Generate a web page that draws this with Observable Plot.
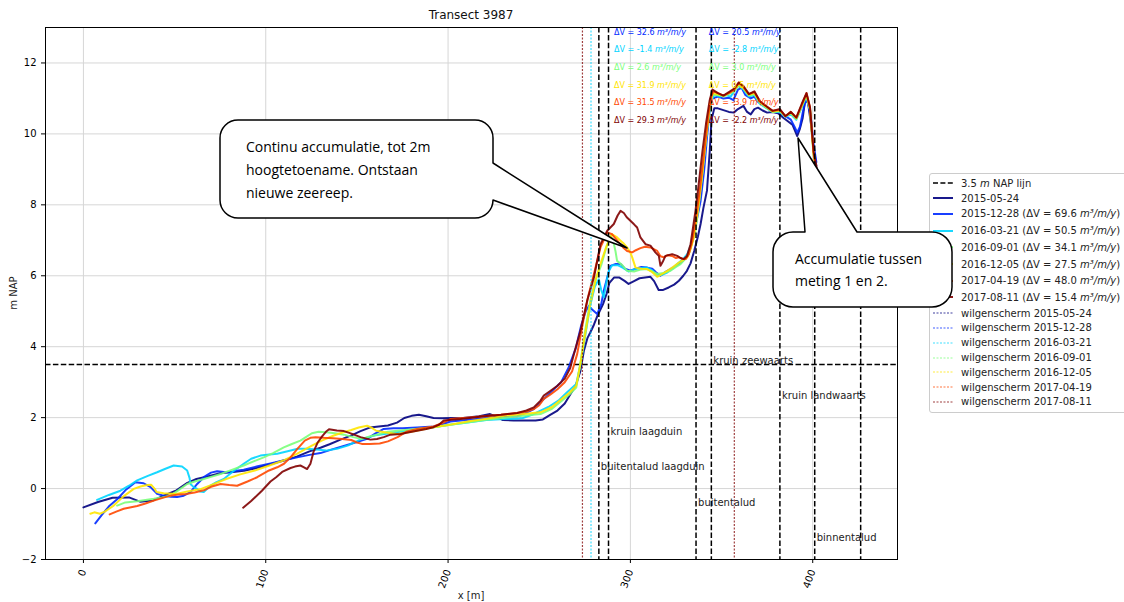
<!DOCTYPE html>
<html><head><meta charset="utf-8">
<script src="https://cdn.jsdelivr.net/npm/d3@7"></script>
<script src="https://cdn.jsdelivr.net/npm/@observablehq/plot@0.6"></script>
<style>
body{margin:0;background:#fff;}
#wrap{position:relative;width:1124px;height:602px;overflow:hidden;font-family:"DejaVu Sans",sans-serif;background:#fff;}
#legend{position:absolute;left:929px;top:173px;width:230px;border:1px solid #cccccc;border-radius:3px;background:rgba(255,255,255,0.85);padding:2px 0 3px 0;font-size:10px;color:#222;}
#legend .row{display:flex;align-items:center;padding-left:2px;white-space:nowrap;}
#legend svg{flex:none;margin-right:7px;}
#overlay{position:absolute;left:0;top:0;pointer-events:none;}
</style></head><body><div id="wrap"></div><script>
// ---------- data ----------
const dates = ["2015-05-24","2015-12-28","2016-03-21","2016-09-01","2016-12-05","2017-04-19","2017-08-11"];
const colors = ["#000080","#002aff","#00d4ff","#7aff7a","#ffe500","#ff4800","#800000"];
const legendDV = [null, "69.6", "50.5", "34.1", "27.5", "48.0", "15.4"];
const dvCol1 = ["32.6", "-1.4", "2.6", "31.9", "31.5", "29.3"];
const dvCol2 = ["20.5", "-2.8", "3.0", "0.5", "-3.9", "-2.2"];
const dvRowY = [12.85, 12.37, 11.87, 11.38, 10.88, 10.39];
const dvColX = [291, 343];
const napLevel = 3.5;
const boundaryX = [282.7, 288.0, 336.0, 344.4, 382.0, 401.1, 426.3];
const boundaryLabel = ["buitentalud laagduin", "kruin laagduin", "buitentalud", "kruin zeewaarts", "kruin landwaarts", "binnentalud", ""];
const boundaryLabelY = [0.5, 1.5, -0.5, 3.5, 2.5, -1.5, null];
const wilgX = [[], [], [278.4], [], [], [], [273.7, 357.0]];
const xTicks = [0, 100, 200, 300, 400];
const yTicks = [-2, 0, 2, 4, 6, 8, 10, 12];

const p20150524 = [[0,-0.53],[8,-0.38],[16,-0.26],[25,-0.25],[31,-0.37],[38,-0.34],[44,-0.2],[51,-0.05],[57,0.16],[62,0.27],[68,0.34],[75,0.43],[82,0.47],[88,0.5],[95,0.58],[102,0.68],[110,0.79],[117,0.9],[124,1.05],[130,1.15],[135,1.25],[141,1.38],[147,1.5],[152,1.62],[157,1.72],[162,1.75],[167,1.78],[172,1.86],[176,1.99],[180,2.05],[184,2.08],[188,2.04],[192,1.99],[197,1.98],[202,1.99],[207,1.98],[212,2.01],[217,2.04],[223,2.1],[227,2.02],[230,1.93],[236,1.92],[242,1.92],[248,1.92],[252,1.95],[256,2.08],[260,2.2],[264,2.4],[267,2.65],[270,2.9],[272.5,3.3],[274.5,3.89],[276.5,4.25],[278,4.4],[280,4.62],[282,4.88],[285,5.2],[287,5.5],[288.5,5.8],[291,5.95],[294,5.95],[297,5.85],[299,5.77],[302,5.85],[305,5.93],[308,5.95],[311,5.97],[313,5.85],[315.5,5.6],[318,5.6],[321,5.67],[324,5.75],[326.6,5.86],[329,6.0],[331,6.14],[333,6.35],[335,6.7],[337,7.1],[338.5,7.46],[340,7.9],[342,8.4],[343.5,9.5],[344.5,10.4],[346,10.72],[348,10.72],[351,10.67],[354,10.62],[356.7,10.6],[359,10.7],[362,10.79],[364,10.62],[366,10.55],[368,10.7],[370,10.74],[372.5,10.66],[375,10.6],[378,10.62],[381,10.58],[384,10.45],[386,10.37],[389,10.25],[391.5,9.94],[393,10.15],[394.5,10.45],[396,11.0],[397.5,10.85],[399,10.3],[400.5,9.6],[402,9.1]];
const p20151228 = [[6.5,-0.98],[10,-0.75],[14,-0.5],[18.5,-0.3],[23,-0.05],[28.5,0.18],[33,0.15],[36.8,0.04],[40.4,-0.15],[44,-0.2],[48,-0.23],[51.4,-0.24],[55,-0.2],[58.7,-0.1],[62.4,0.13],[66,0.32],[70,0.45],[73.3,0.49],[77,0.47],[80.6,0.46],[84,0.5],[87.9,0.53],[95,0.62],[102.6,0.71],[110,0.8],[117.2,0.88],[124,0.95],[130,1.0],[137.3,1.12],[146,1.25],[155.6,1.4],[160,1.55],[164.7,1.68],[170,1.7],[175,1.7],[183,1.72],[192,1.75],[197,1.82],[201.3,1.89],[210,1.93],[219.6,1.98],[228,2.01],[237.9,2.04],[243.4,2.15],[247,2.24],[250.7,2.43],[254.4,2.62],[258,2.8],[262,3.0],[266,3.4],[270,3.95],[273,4.6],[275.5,5.0],[277.2,5.15],[279,5.05],[281.8,4.92],[284,5.2],[285.5,5.6],[287.3,5.95],[289,6.28],[292,6.33],[294.6,6.33],[297,6.2],[300,6.14],[303,6.2],[306,6.25],[309.2,6.23],[312,6.2],[314,6.1],[316.5,6.0],[319,6.1],[322,6.19],[325,6.28],[327.5,6.37],[329.5,6.45],[331.2,6.56],[333,6.8],[334.8,7.17],[336.5,7.6],[338.5,8.11],[340.5,9.0],[342,9.9],[343.5,10.7],[345,11.0],[348,11.05],[351,11.0],[354,11.02],[356.5,10.95],[359,11.25],[361,11.3],[363,11.1],[366,11.0],[368,11.05],[370,10.9],[373,10.8],[376,10.7],[379,10.62],[382,10.6],[385,10.5],[388,10.4],[390,10.2],[391.5,10.04],[393,10.2],[394.5,10.6],[396,10.93],[397.5,10.9],[399,10.45],[400.5,9.7],[402,9.2]];
const p20160321 = [[7.5,-0.32],[14,-0.18],[20.3,-0.06],[25,0.08],[29.5,0.23],[35,0.35],[40.4,0.46],[45,0.56],[49.5,0.65],[54.1,0.62],[56.9,0.51],[58.2,0.3],[58.7,0.13],[60.5,0.04],[62.4,-0.01],[64,-0.08],[66,-0.1],[68,0.0],[69.7,0.08],[73,0.18],[77,0.27],[82,0.48],[87.9,0.7],[92,0.84],[97.1,0.93],[102,0.96],[106.3,0.98],[112,1.05],[117.5,1.12],[122,1.12],[128,1.1],[133,1.07],[139,1.12],[144.9,1.21],[152.7,1.4],[160,1.5],[172.3,1.59],[182,1.66],[191.9,1.73],[201,1.8],[211.5,1.87],[221,1.93],[231,1.96],[237,1.97],[241,1.99],[246,2.08],[250.7,2.2],[255,2.3],[260.5,2.48],[265,2.7],[270.3,2.95],[273,3.6],[275.5,4.4],[278.1,5.2],[280.5,5.7],[282.7,5.9],[284,5.6],[285.4,5.39],[286.8,5.8],[288.2,6.14],[290,6.3],[293,6.3],[296,6.22],[299,6.12],[302,6.18],[306,6.22],[309.2,6.23],[312,6.15],[314.7,6.0],[317,6.02],[320.2,6.09],[323,6.2],[325.7,6.33],[328.5,6.45],[331.2,6.61],[333,6.85],[334.5,7.1],[336.6,7.92],[338.5,8.5],[340.5,9.4],[342.5,10.3],[344,10.9],[346,11.1],[349,11.05],[352,11.1],[355,11.05],[358,11.3],[360,11.35],[362,11.25],[365,11.05],[368,11.1],[371,10.85],[374,10.75],[378,10.62],[382,10.62],[385,10.48],[388,10.55],[391,10.4],[394,10.75],[396.5,11.05],[398.5,10.7],[400.5,9.5],[402,9.0]];
const p20160901 = [[18.5,-0.48],[23,-0.39],[29.5,-0.36],[34,-0.32],[38.6,-0.29],[43,-0.25],[47.7,-0.2],[52,-0.05],[56.9,0.13],[61,0.2],[66,0.27],[70,0.33],[75.2,0.41],[81,0.52],[87.9,0.65],[93,0.76],[98.9,0.88],[104,1.0],[109.9,1.16],[114,1.25],[119,1.35],[122,1.45],[125.3,1.56],[129,1.6],[133.1,1.59],[138,1.56],[142.9,1.52],[148,1.45],[152.7,1.4],[157,1.47],[162.5,1.54],[167,1.6],[172.3,1.63],[182,1.68],[191.9,1.73],[201,1.8],[211.5,1.87],[221,1.94],[231,2.0],[241,2.05],[250.7,2.1],[257,2.25],[262.4,2.48],[266.5,2.65],[270.3,2.85],[272.5,3.5],[275,4.4],[278,5.3],[281,5.9],[284,6.3],[286.5,6.75],[289.1,7.13],[290.5,7.0],[291.8,6.7],[292.7,6.42],[295.5,6.3],[298.2,6.14],[302,6.12],[306,6.18],[309.2,6.19],[312,6.12],[314.7,6.05],[318,6.08],[322,6.14],[325,6.25],[327.5,6.33],[330,6.47],[332,6.61],[334,6.95],[335.7,7.27],[337.5,8.0],[339.5,8.9],[341.5,9.9],[343.5,10.7],[345,11.1],[348,11.1],[351,11.05],[354,11.12],[357,11.2],[359.5,11.38],[362,11.28],[365,11.08],[368,11.12],[371,10.88],[374,10.76],[378,10.62],[382,10.64],[385,10.5],[388,10.58],[391,10.42],[394,10.78],[396.5,11.08],[398.5,10.68],[400.5,9.4],[402,8.9]];
const p20161205 = [[3.8,-0.71],[6,-0.67],[9,-0.71],[11.7,-0.65],[16.6,-0.48],[22,-0.22],[27.6,-0.01],[31.3,0.06],[35,0.1],[37.1,0.11],[39,0.0],[40.1,-0.1],[44,-0.13],[50.9,-0.15],[57,-0.08],[64.6,-0.01],[71,0.12],[78.3,0.27],[86,0.4],[94,0.51],[102,0.65],[109.6,0.79],[117,0.98],[125.3,1.21],[131,1.36],[137,1.49],[142,1.58],[146.9,1.65],[151,1.72],[155.6,1.77],[158,1.72],[160.6,1.63],[166,1.58],[172.3,1.54],[182,1.62],[191.9,1.73],[201,1.8],[211.5,1.9],[221,1.97],[231,2.05],[241,2.1],[250.7,2.15],[257,2.3],[262.4,2.53],[266.5,2.7],[270.3,2.9],[272.5,3.5],[275,4.3],[278,5.2],[281,5.9],[284,6.4],[287,6.85],[290,7.17],[292.3,7.1],[294.6,6.99],[296.5,6.9],[298.2,6.8],[300,6.65],[301,6.52],[302.8,6.23],[306,6.2],[309.2,6.19],[312,6.1],[314.7,5.97],[317.5,6.05],[320.2,6.14],[323.5,6.25],[326.6,6.37],[329,6.45],[331.2,6.52],[333,6.75],[334.8,7.08],[337.5,8.03],[339.5,8.9],[341.5,9.9],[343.5,10.8],[345,11.15],[348,11.12],[351,11.08],[354,11.15],[357,11.25],[359.5,11.42],[362,11.3],[365,11.1],[368,11.15],[371,10.9],[374,10.78],[378,10.63],[382,10.66],[385,10.5],[388,10.6],[391,10.44],[394,10.8],[396.5,11.12],[398.5,10.7],[400.5,9.4],[402,8.9]];
const p20170419 = [[14.4,-0.73],[18,-0.65],[22.1,-0.57],[29.5,-0.49],[34,-0.42],[38.6,-0.34],[43,-0.27],[47.7,-0.2],[52,-0.17],[56.9,-0.15],[61,-0.11],[66,-0.05],[70,0.05],[75.2,0.13],[80,0.1],[84.3,0.08],[90,0.2],[95.3,0.32],[101.8,0.51],[106.3,0.6],[110,0.7],[113.6,0.88],[117,1.1],[121.4,1.35],[124.5,1.43],[127.3,1.45],[132,1.43],[137,1.42],[142,1.4],[146.9,1.37],[150,1.3],[152.7,1.26],[157,1.26],[162.5,1.27],[167,1.33],[172.3,1.45],[177,1.6],[183,1.68],[192,1.75],[197,1.85],[201.3,1.96],[210,2.0],[219.6,2.04],[229,2.08],[237.9,2.13],[243,2.17],[247,2.24],[250,2.35],[252.5,2.53],[256,2.65],[260,2.8],[264,3.0],[268,3.3],[270.8,3.79],[272.6,4.3],[274.5,4.83],[277,5.45],[280,6.05],[283.6,6.8],[287.3,7.22],[290,7.17],[293.6,6.94],[296,6.8],[298.2,6.7],[301,6.66],[303,6.72],[305.5,6.78],[308,6.82],[311,6.8],[314.7,6.7],[316.5,6.55],[318.3,6.52],[320.5,6.58],[322.9,6.56],[325,6.5],[326.6,6.52],[328.5,6.48],[330.3,6.47],[332,6.6],[334,6.99],[336.6,7.83],[338.5,8.6],[340.5,9.5],[342.5,10.4],[344,11.0],[345.5,11.2],[348,11.15],[351,11.08],[354,11.15],[357,11.25],[359.5,11.45],[362,11.32],[365,11.12],[368,11.18],[371,10.92],[374,10.8],[378,10.65],[382,10.68],[385,10.5],[388,10.62],[391,10.46],[394,10.82],[396.6,11.15],[398.5,10.75],[400.5,9.45],[402,8.95]];
const p20170811 = [[87.6,-0.54],[92,-0.35],[97.9,-0.06],[102.6,0.2],[105.7,0.32],[109,0.47],[113.6,0.58],[116,0.62],[119,0.65],[121,0.6],[122.7,0.55],[124.5,0.7],[126.3,1.05],[128.5,1.3],[131,1.48],[133,1.6],[134.7,1.67],[139,1.64],[142.9,1.62],[147,1.55],[152,1.45],[157.4,1.38],[161,1.4],[164.7,1.45],[168.4,1.52],[173.9,1.54],[178,1.58],[183,1.63],[188,1.68],[192,1.73],[195,1.8],[197.6,1.92],[202,1.94],[206.8,1.96],[213,2.0],[219.6,2.04],[229,2.08],[237.9,2.13],[243,2.2],[247,2.29],[250.7,2.48],[252.5,2.62],[256,2.75],[260,2.9],[264,3.1],[267,3.4],[269,3.79],[272.6,4.44],[276.3,5.3],[280,5.95],[283.6,6.89],[287.3,7.27],[290.9,7.46],[293,7.7],[294.6,7.83],[296.4,7.77],[298,7.65],[300,7.55],[302,7.45],[303.7,7.36],[305.5,7.08],[308.3,6.89],[311,6.85],[313.7,6.66],[315.6,6.56],[316.5,6.28],[317.8,6.4],[319.2,6.56],[322.9,6.61],[325.7,6.56],[327.5,6.5],[329.3,6.47],[331,6.55],[333,6.89],[335.7,7.83],[337.5,8.6],[339.5,9.5],[341.5,10.3],[343.5,10.95],[345,11.25],[348,11.15],[351,11.08],[354,11.18],[357,11.28],[359.5,11.45],[362,11.35],[365,11.12],[368,11.2],[371,10.92],[374,10.8],[378,10.65],[382,10.7],[385,10.5],[388,10.62],[391,10.46],[394,10.85],[396.6,11.15],[398.5,10.75],[400.5,9.5],[402.5,8.95]];
const profiles = [p20150524, p20151228, p20160321, p20160901, p20161205, p20170419, p20170811];

// ---------- derived tables ----------
const UNIT = " m³/m/y";
const dvTexts = [];
dvCol1.forEach((v, i) => dvTexts.push({x: dvColX[0], y: dvRowY[i], text: "ΔV = " + v + UNIT, c: colors[i + 1]}));
dvCol2.forEach((v, i) => dvTexts.push({x: dvColX[1], y: dvRowY[i], text: "ΔV = " + v + UNIT, c: colors[i + 1]}));
const bounds = boundaryX.map((x, i) => ({x, label: boundaryLabel[i], ly: boundaryLabelY[i]}));
const wilg = [];
wilgX.forEach((arr, i) => arr.forEach(x => wilg.push({x, c: colors[i]})));

const lineMarks = profiles.map((p, i) => Plot.line(p, {x: d => d[0], y: d => d[1], stroke: colors[i], strokeWidth: 2, strokeOpacity: 0.9}));

const chart = Plot.plot({
  width: 1124, height: 602,
  marginLeft: 45, marginRight: 227, marginTop: 27, marginBottom: 43,
  style: {fontFamily: "DejaVu Sans", fontSize: "10px", background: "transparent", color: "#000"},
  x: {domain: [-20.8, 446.5], ticks: xTicks, tickRotate: -70, tickSize: 4, label: null},
  y: {domain: [-2, 13], ticks: yTicks, tickSize: 4, label: null},
  marks: [
    Plot.ruleX(xTicks, {stroke: "#d6d6d6", strokeWidth: 1}),
    Plot.ruleY(yTicks, {stroke: "#d6d6d6", strokeWidth: 1}),
    Plot.ruleY([napLevel], {stroke: "#000", strokeWidth: 1.5, strokeDasharray: "5.5,2.4"}),
    ...lineMarks,
    Plot.ruleX(wilg, {x: "x", stroke: "c", strokeWidth: 1.2, strokeOpacity: 0.75, strokeDasharray: "2,1.5"}),
    Plot.ruleX(bounds, {x: "x", stroke: "#000", strokeWidth: 1.5, strokeDasharray: "5.5,2.4"}),
    Plot.text(bounds.filter(d => d.label), {x: "x", y: "ly", text: "label", textAnchor: "start", lineAnchor: "middle", dx: 2, dy: -4, fill: "#222", fontSize: 10}),
    Plot.text(dvTexts, {x: "x", y: "y", text: "text", fill: "c", textAnchor: "start", lineAnchor: "middle", fontSize: 8}),
    Plot.frame({stroke: "#000", strokeWidth: 1})
  ]
});

// italic unit in annotation texts
d3.select(chart).selectAll("text").each(function() {
  const t = this.textContent;
  if (t.endsWith("m³/m/y") && this.childElementCount === 0) {
    const head = t.slice(0, t.length - 6);
    this.textContent = "";
    d3.select(this).append("tspan").text(head);
    d3.select(this).append("tspan").attr("font-style", "italic").text("m³/m/y");
  }
});

const wrap = document.getElementById("wrap");
wrap.appendChild(chart);

// ---------- legend ----------
const legend = document.createElement("div");
legend.id = "legend";
const rows = [];
rows.push({kind: "nap", html: "3.5 <i>m</i> NAP lijn", h: 14.8});
dates.forEach((d, i) => rows.push({kind: "series", c: colors[i], html: d + (legendDV[i] ? " (ΔV = " + legendDV[i] + " <i>m³/m/y</i>)" : ""), h: legendDV[i] ? 16.7 : 14.8}));
dates.forEach((d, i) => rows.push({kind: "wilg", c: colors[i], html: "wilgenscherm " + d, h: 14.8}));
rows.forEach(r => {
  const row = document.createElement("div");
  row.className = "row";
  row.style.height = r.h + "px";
  let sw;
  if (r.kind === "nap") sw = `<svg width="22" height="8"><line x1="1" x2="21" y1="4" y2="4" stroke="#000" stroke-width="1.5" stroke-dasharray="5,2.4"/></svg>`;
  else if (r.kind === "series") sw = `<svg width="22" height="8"><line x1="1" x2="21" y1="4" y2="4" stroke="${r.c}" stroke-width="2" stroke-opacity="0.9"/></svg>`;
  else sw = `<svg width="22" height="8"><line x1="1" x2="21" y1="4" y2="4" stroke="${r.c}" stroke-opacity="0.75" stroke-width="1.2" stroke-dasharray="2,1.5"/></svg>`;
  row.innerHTML = sw + "<span>" + r.html + "</span>";
  legend.appendChild(row);
});
wrap.appendChild(legend);

// ---------- overlay: title, axis labels, callouts ----------
const ov = d3.select(wrap).append("svg").attr("id", "overlay").attr("width", 1124).attr("height", 602);
ov.append("text").attr("x", 471).attr("y", 19).attr("text-anchor", "middle").attr("font-family", "DejaVu Sans").attr("font-size", 12).attr("fill", "#111").text("Transect 3987");
ov.append("text").attr("x", 471).attr("y", 599).attr("text-anchor", "middle").attr("font-family", "DejaVu Sans").attr("font-size", 10).attr("fill", "#222").text("x [m]");
ov.append("text").attr("transform", "translate(17,293) rotate(-90)").attr("text-anchor", "middle").attr("font-family", "DejaVu Sans").attr("font-size", 10).attr("fill", "#222").text("m NAP");

ov.append("path")
  .attr("d", "M238,120 H475 A18,18 0 0 1 493,138 V163 L627,248 L493,200 A18,18 0 0 1 475,218 H238 A18,18 0 0 1 220,200 V138 A18,18 0 0 1 238,120 Z")
  .attr("fill", "#fff").attr("stroke", "#000").attr("stroke-width", 1.5).attr("stroke-linejoin", "round");
const c1 = ["Continu accumulatie, tot 2m", "hoogtetoename. Ontstaan", "nieuwe zeereep."];
c1.forEach((s, i) => ov.append("text").attr("x", 246).attr("y", 152 + i * 23).attr("font-family", "Open Sans").attr("font-size", 14).attr("fill", "#000").text(s));

ov.append("path")
  .attr("d", "M793,232 H805 L798,138 L857,232 H932 A20,20 0 0 1 952,252 V287 A20,20 0 0 1 932,307 H793 A20,20 0 0 1 773,287 V252 A20,20 0 0 1 793,232 Z")
  .attr("fill", "#fff").attr("stroke", "#000").attr("stroke-width", 1.5).attr("stroke-linejoin", "round");
const c2 = ["Accumulatie tussen", "meting 1 en 2."];
c2.forEach((s, i) => ov.append("text").attr("x", 795).attr("y", 264 + i * 22).attr("font-family", "Open Sans").attr("font-size", 14).attr("fill", "#000").text(s));
</script></body></html>
